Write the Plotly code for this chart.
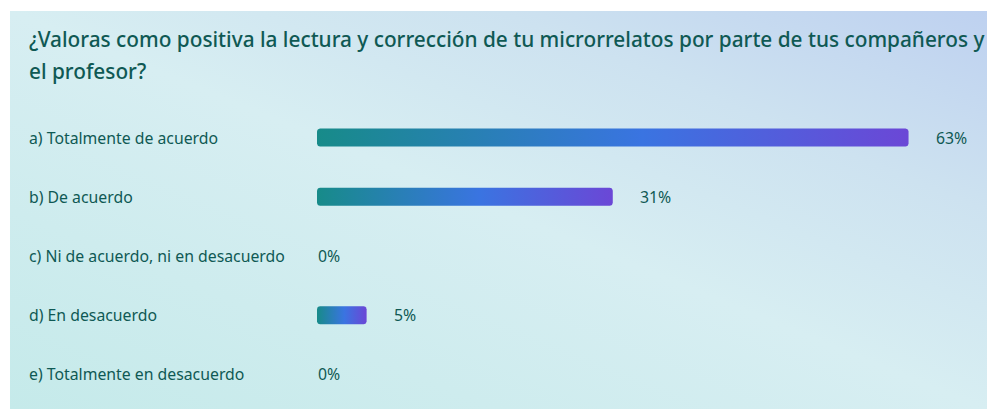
"""Encuesta: valoración de la lectura y corrección de microrrelatos."""

import base64
import math
import plotly.graph_objects as go

# Datos
pregunta_l1 = "¿Valoras como positiva la lectura y corrección de tu microrrelatos por parte de tus compañeros y"
pregunta_l2 = "el profesor?"
opciones = [
    "a) Totalmente de acuerdo",
    "b) De acuerdo",
    "c) Ni de acuerdo, ni en desacuerdo",
    "d) En desacuerdo",
    "e) Totalmente en desacuerdo",
]
porcentajes = [63.2, 31.6, 0.0, 5.3, 0.0]
rotulos = ["63%", "31%", "0%", "5%", "0%"]

# Geometria (px)
W, H = 987, 409
M_L, M_R, M_T, M_B = 317, 0, 108, 5
PLOT_W = W - M_L - M_R
PLOT_H = H - M_T - M_B
PX_POR_PCT = 9.36
PX_POR_FILA = PLOT_H / len(opciones)
GROSOR = 18 / PX_POR_FILA
RADIO = 3

FUENTE = "Segoe UI, Noto Sans, Open Sans, sans-serif"
COLOR_TEXTO = "#0f5954"
DEGRADADO = [[0, "#178b89"], [0.55, "#3a74e1"], [1, "#6b47d6"]]


def px_x(p):
    return (p - M_L) / PLOT_W


def px_y(p):
    return (H - M_B - p) / PLOT_H


def barra_redondeada(valor, fila):
    """Contorno de barra con esquinas redondeadas (en unidades de datos)."""
    rx = min(RADIO / PX_POR_PCT, valor / 2)
    ry = RADIO / PX_POR_FILA
    y0, y1 = fila - GROSOR / 2, fila + GROSOR / 2
    esquinas = [
        (valor - rx, y0 + ry, -90, 0),
        (valor - rx, y1 - ry, 0, 90),
        (rx, y1 - ry, 90, 180),
        (rx, y0 + ry, 180, 270),
    ]
    xs, ys = [], []
    for cx, cy, a0, a1 in esquinas:
        for k in range(6):
            a = math.radians(a0 + (a1 - a0) * k / 5)
            xs.append(cx + rx * math.cos(a))
            ys.append(cy + ry * math.sin(a))
    xs.append(xs[0])
    ys.append(ys[0])
    return xs, ys


fig = go.Figure()

for i, v in enumerate(porcentajes):
    if v <= 0:
        continue
    bx, by = barra_redondeada(v, i)
    fig.add_trace(go.Scatter(
        x=bx, y=by,
        mode="lines",
        fill="toself",
        fillgradient=dict(type="horizontal", colorscale=DEGRADADO),
        line=dict(width=0),
        hoverinfo="skip",
        showlegend=False,
    ))

fuente_titulo = dict(size=20.8, color=COLOR_TEXTO, weight=500)
fuente_fila = dict(size=15.8, color=COLOR_TEXTO)

anotaciones = []
anotaciones.append(dict(
    text=pregunta_l1, xref="paper", yref="paper",
    x=px_x(27), y=px_y(39), xanchor="left", yanchor="middle",
    showarrow=False, font=fuente_titulo,
))
anotaciones.append(dict(
    text=pregunta_l2, xref="paper", yref="paper",
    x=px_x(27), y=px_y(71), xanchor="left", yanchor="middle",
    showarrow=False, font=fuente_titulo,
))
for i, (op, v, r) in enumerate(zip(opciones, porcentajes, rotulos)):
    anotaciones.append(dict(
        text=op, xref="paper", yref="y", x=px_x(27), y=i,
        xanchor="left", yanchor="middle", showarrow=False,
        font=fuente_fila,
    ))
    anotaciones.append(dict(
        text=r, xref="x", yref="y", x=v, y=i,
        xanchor="left", yanchor="middle", showarrow=False,
        xshift=25 if v > 0 else -1,
        font=fuente_fila,
    ))

# Fondo con degradado diagonal
fondo_w, fondo_h = W - 10, H - 11
svg = (
    f'<svg xmlns="http://www.w3.org/2000/svg" width="{fondo_w}" height="{fondo_h}" '
    f'viewBox="0 0 {fondo_w} {fondo_h}" preserveAspectRatio="none">'
    '<defs><linearGradient id="g" x1="0" y1="1" x2="1" y2="0">'
    '<stop offset="0" stop-color="#c5eaea"/>'
    '<stop offset="0.5" stop-color="#d7eef2"/>'
    '<stop offset="0.75" stop-color="#cde2f0"/>'
    '<stop offset="1" stop-color="#bed1f0"/>'
    '</linearGradient></defs>'
    f'<rect width="{fondo_w}" height="{fondo_h}" fill="url(#g)"/></svg>'
)
fuente_svg = "data:image/svg+xml;base64," + base64.b64encode(svg.encode()).decode()

fig.update_layout(
    width=W, height=H,
    margin=dict(l=M_L, r=M_R, t=M_T, b=M_B, pad=0),
    paper_bgcolor="white",
    plot_bgcolor="rgba(0,0,0,0)",
    font=dict(family=FUENTE, color=COLOR_TEXTO),
    xaxis=dict(range=[0, PLOT_W / PX_POR_PCT], visible=False, fixedrange=True),
    yaxis=dict(range=[len(opciones) - 0.5, -0.5], visible=False, fixedrange=True),
    annotations=anotaciones,
    images=[dict(
        source=fuente_svg, xref="paper", yref="paper",
        x=px_x(10), y=px_y(11), sizex=fondo_w / PLOT_W, sizey=fondo_h / PLOT_H,
        xanchor="left", yanchor="top", sizing="stretch", layer="below",
    )],
    showlegend=False,
)

fig.write_html(
    "out.html",
    config=dict(displayModeBar=False),
    post_script="document.body.style.margin='0';",
)
